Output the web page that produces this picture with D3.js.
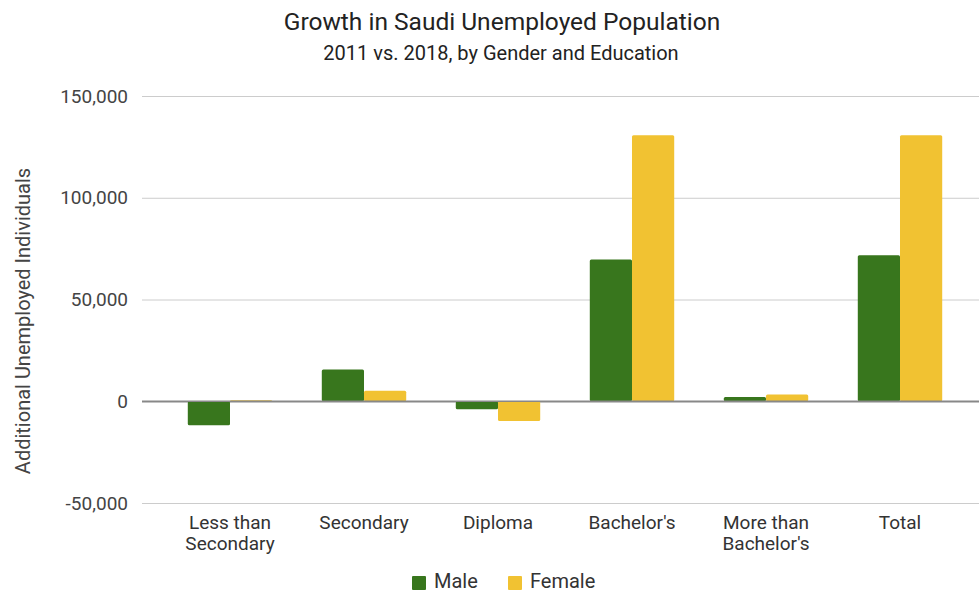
<!DOCTYPE html>
<html>
<head>
<meta charset="utf-8">
<script src="https://cdn.jsdelivr.net/npm/d3@7"></script>
<style>
  html, body { margin: 0; padding: 0; background: #fff; }
  svg { display: block; font-family: Roboto, "Noto Sans", sans-serif; }
</style>
</head>
<body>
<svg id="chart" width="979" height="592"></svg>
<script>
// Education levels and the change in unemployed Saudis (2011 -> 2018)
const categories = [["Less than", "Secondary"], ["Secondary"], ["Diploma"], ["Bachelor's"], ["More than", "Bachelor's"], ["Total"]];
const series = ["Male", "Female"];
const maleValues = [-11800, 15600, -3900, 69700, 2100, 71700];
const femaleValues = [500, 5100, -9700, 130700, 3300, 130700];
const yTicks = [-50000, 0, 50000, 100000, 150000];
const colors = ["#38761d", "#f1c232"];

const svg = d3.select("#chart");
const W = 979;

const catKeys = categories.map(c => c.join(" "));
const rows = catKeys.map((k, i) => ({ key: k, values: [maleValues[i], femaleValues[i]] }));

const x0 = d3.scaleBand().domain(catKeys).range([163, 967]).paddingInner(0.37).paddingOuter(0.185);
const x1 = d3.scaleBand().domain(series).range([0, x0.bandwidth()]);
const y = d3.scaleLinear().domain([-50000, 150000]).range([503, 96]);

// Title block
svg.append("text").attr("x", 502).attr("y", 30).attr("text-anchor", "middle")
  .attr("font-size", 24.5).attr("fill", "#222").text("Growth in Saudi Unemployed Population");
svg.append("text").attr("x", 501).attr("y", 60).attr("text-anchor", "middle")
  .attr("font-size", 20).attr("fill", "#222").text("2011 vs. 2018, by Gender and Education");

// Horizontal gridlines with value labels (plain hyphen for negatives)
const fmt = d => d3.format(",")(d).replace("\u2212", "-");
const yAxis = d3.axisLeft(y).tickValues(yTicks).tickSize(-(W - 142)).tickFormat(fmt);
const gy = svg.append("g").attr("transform", "translate(142,0)").call(yAxis);
gy.select(".domain").remove();
gy.selectAll(".tick line").attr("stroke", d => d === 0 ? "#888" : "#ccc").attr("stroke-width", d => d === 0 ? 1.5 : 1);
gy.selectAll(".tick text").attr("x", -14).attr("font-size", 19).attr("fill", "#444").attr("font-family", "Roboto, sans-serif");

// Axis title
svg.append("text").attr("transform", "translate(30,321) rotate(-90)").attr("text-anchor", "middle")
  .attr("font-size", 20).attr("fill", "#444").text("Additional Unemployed Individuals");

// Bars
const groups = svg.append("g").selectAll("g").data(rows).join("g")
  .attr("transform", d => `translate(${x0(d.key)},0)`);
groups.selectAll("rect").data(d => d.values.map((v, i) => ({ v, s: series[i], i }))).join("rect")
  .attr("x", d => x1(d.s))
  .attr("width", x1.bandwidth())
  .attr("y", d => y(Math.max(0, d.v)))
  .attr("height", d => Math.abs(y(d.v) - y(0)))
  .attr("rx", 1.5)
  .attr("fill", d => colors[d.i]);

// Re-draw the zero line above the bars
svg.append("line").attr("x1", 142).attr("x2", W).attr("y1", y(0)).attr("y2", y(0))
  .attr("stroke", "#888").attr("stroke-width", 1.5);

// Category labels
const xl = svg.append("g").selectAll("text").data(categories).join("text")
  .attr("x", (d, i) => x0(catKeys[i]) + x0.bandwidth() / 2)
  .attr("y", 529).attr("text-anchor", "middle").attr("font-size", 19).attr("fill", "#333");
xl.selectAll("tspan").data(d => d).join("tspan")
  .attr("x", function () { return this.parentNode.getAttribute("x"); })
  .attr("dy", (d, i) => i === 0 ? 0 : 21).text(d => d);

// Legend
const legend = svg.append("g");
const legendItems = [{ label: "Male", x: 412 }, { label: "Female", x: 508 }];
legendItems.forEach((it, i) => {
  legend.append("rect").attr("x", it.x).attr("y", 576).attr("width", 14).attr("height", 14).attr("rx", 1).attr("fill", colors[i]);
  legend.append("text").attr("x", it.x + 22).attr("y", 588).attr("font-size", 20).attr("fill", "#333").text(series[i]);
});
</script>
</body>
</html>
